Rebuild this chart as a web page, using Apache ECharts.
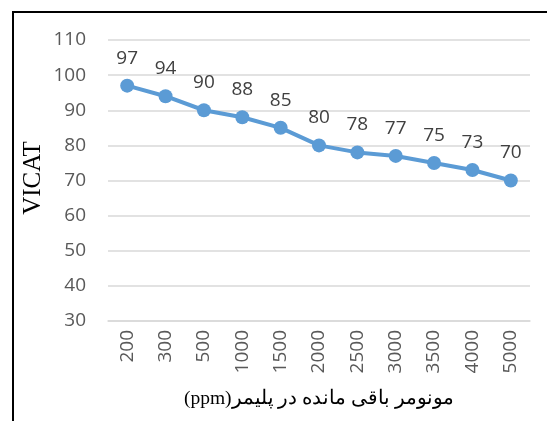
<!DOCTYPE html>
<html>
<head>
<meta charset="utf-8">
<script src="https://cdn.jsdelivr.net/npm/echarts@6/dist/echarts.min.js"></script>
<style>
  html, body { margin: 0; padding: 0; background: #fff; overflow: hidden; }
  #wrap { position: relative; width: 547px; height: 421px; }
  #chart { width: 547px; height: 421px; }
  /* chart frame, cut off at the right and bottom */
  #frame {
    position: absolute; left: 12px; top: 11px; width: 600px; height: 500px;
    border-left: 2px solid #000; border-top: 2px solid #000;
    pointer-events: none; z-index: 10;
  }
</style>
</head>
<body>
<div id="wrap">
  <div id="chart"></div>
  <div id="frame"></div>
</div>
<script>
const categories = ["200", "300", "500", "1000", "1500", "2000", "2500", "3000", "3500", "4000", "5000"];
const vicatValues = [97, 94, 90, 88, 85, 80, 78, 77, 75, 73, 70];
const yTicks = { min: 30, max: 110, interval: 10 };
const xTitle = "(ppm)مونومر باقی مانده در پلیمر";
const yTitle = "VICAT";

const labelFont = "Open Sans, Liberation Sans, sans-serif";

const chart = echarts.init(document.getElementById("chart"));

chart.setOption({
  animation: false,
  grid: { left: 108, right: 17, top: 40, bottom: 100 },
  graphic: [
    {
      type: "text",
      x: 33,
      y: 178,
      rotation: Math.PI / 2,
      style: {
        text: yTitle,
        fontSize: 25,
        fill: "#000",
        fontFamily: "Liberation Serif, serif",
        align: "center",
        verticalAlign: "middle",
      },
    },
  ],
  xAxis: {
    type: "category",
    data: categories,
    boundaryGap: true,
    axisLine: { show: true, lineStyle: { color: "#d9d9d9", width: 1.5 } },
    axisTick: { show: false },
    axisLabel: {
      rotate: 90,
      margin: 9,
      fontSize: 19,
      color: "#595959",
      fontFamily: labelFont,
    },
    name: xTitle,
    nameLocation: "middle",
    nameGap: 68,
    nameTextStyle: {
      fontSize: 19.5,
      color: "#000",
      fontFamily: "Liberation Serif, DejaVu Serif, serif",
    },
  },
  yAxis: {
    type: "value",
    min: yTicks.min,
    max: yTicks.max,
    interval: yTicks.interval,
    axisLine: { show: false },
    axisTick: { show: false },
    splitLine: { lineStyle: { color: "#d9d9d9", width: 1.5 } },
    axisLabel: {
      margin: 22,
      fontSize: 19,
      color: "#595959",
      fontFamily: labelFont,
    },
  },
  series: [
    {
      type: "line",
      data: vicatValues,
      symbol: "circle",
      symbolSize: 14,
      lineStyle: { color: "#5b9bd5", width: 4 },
      itemStyle: { color: "#5b9bd5" },
      label: {
        show: true,
        position: "top",
        distance: 11,
        fontSize: 19,
        color: "#404040",
        fontFamily: labelFont,
      },
    },
  ],
});
</script>
</body>
</html>
